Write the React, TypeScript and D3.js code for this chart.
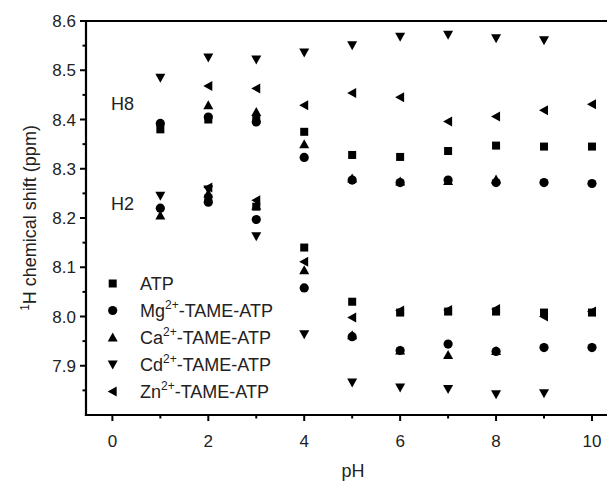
import React from "react";
import * as d3 from "d3";

const pH = [1, 2, 3, 4, 5, 6, 7, 8, 9, 10];

const atpH8 = [8.38, 8.4, 8.4, 8.375, 8.328, 8.324, 8.336, 8.347, 8.345, 8.345];
const atpH2 = [null, 8.24, 8.223, 8.14, 8.03, 8.008, 8.01, 8.01, 8.008, 8.008];
const mgH8 = [8.392, 8.405, 8.395, 8.323, 8.277, 8.272, 8.277, 8.272, 8.272, 8.27];
const mgH2 = [8.22, 8.232, 8.197, 8.058, 7.959, 7.931, 7.944, 7.929, 7.937, 7.937];
const caH8 = [null, 8.429, 8.415, 8.35, 8.28, 8.274, 8.275, 8.278, null, null];
const caH2 = [8.205, 8.25, 8.225, 8.094, 7.962, 7.931, 7.922, 7.93, null, null];
const cdH8 = [8.485, 8.526, 8.522, 8.536, 8.551, 8.568, 8.572, 8.565, 8.561, null];
const cdH2 = [8.245, 8.258, 8.163, 7.964, 7.866, 7.856, 7.853, 7.842, 7.844, null];
const znH8 = [null, 8.468, 8.463, 8.429, 8.454, 8.445, 8.396, 8.406, 8.419, 8.431];
const znH2 = [null, 8.262, 8.236, 8.111, 7.998, 8.012, 8.013, 8.015, 8.0, 8.01];

const seriesNames = ["ATP", "Mg", "Ca", "Cd", "Zn"];
const seriesShapes = ["square", "circle", "up", "down", "left"];
const seriesH8 = [atpH8, mgH8, caH8, cdH8, znH8];
const seriesH2 = [atpH2, mgH2, caH2, cdH2, znH2];

const yTicks = [7.9, 8.0, 8.1, 8.2, 8.3, 8.4, 8.5, 8.6];
const yMinor = [7.85, 7.95, 8.05, 8.15, 8.25, 8.35, 8.45, 8.55];
const xTicks = [0, 2, 4, 6, 8, 10];
const xMinor = [1, 3, 5, 7, 9];

const W = 607;
const H = 482;
const left = 86;
const top = 21;
const bottom = 415;

const x = d3.scaleLinear().domain([-0.55, 10.5]).range([left, left + 11.05 * 47.96]);
const y = d3.scaleLinear().domain([7.8, 8.6]).range([bottom, top]);

const FONT = "'Liberation Sans', Arial, sans-serif";

function Marker({ shape, cx, cy }: { shape: string; cx: number; cy: number }) {
  if (shape === "square") return <rect x={cx - 4} y={cy - 4} width={8} height={8} fill="#000" />;
  if (shape === "circle") return <circle cx={cx} cy={cy} r={4.6} fill="#000" />;
  if (shape === "up")
    return <path d={`M${cx},${cy - 5} L${cx + 5},${cy + 4} L${cx - 5},${cy + 4} Z`} fill="#000" />;
  if (shape === "down")
    return <path d={`M${cx - 5},${cy - 4} L${cx + 5},${cy - 4} L${cx},${cy + 5} Z`} fill="#000" />;
  return <path d={`M${cx - 5},${cy} L${cx + 4},${cy - 5} L${cx + 4},${cy + 5} Z`} fill="#000" />;
}

function Super({ base, sup, rest }: { base: string; sup: string; rest: string }) {
  return (
    <>
      {base}
      <tspan fontSize={12} dy={-8}>{sup}</tspan>
      <tspan dy={8}>{rest}</tspan>
    </>
  );
}

export default function App() {
  const legendLabels = [
    <>ATP</>,
    <Super base="Mg" sup="2+" rest="-TAME-ATP" />,
    <Super base="Ca" sup="2+" rest="-TAME-ATP" />,
    <Super base="Cd" sup="2+" rest="-TAME-ATP" />,
    <Super base="Zn" sup="2+" rest="-TAME-ATP" />,
  ];
  return (
    <svg
      width={W}
      height={H}
      style={{ position: "absolute", left: 0, top: 0, background: "#fff" }}
      fontFamily={FONT}
    >
      <rect x={0} y={0} width={W} height={H} fill="#fff" />
      {/* data */}
      {seriesNames.map((name, si) => (
        <g key={name}>
          {[seriesH8[si], seriesH2[si]].map((arr, ai) =>
            arr.map((v, i) =>
              v == null ? null : (
                <Marker key={`${ai}-${i}`} shape={seriesShapes[si]} cx={x(pH[i])} cy={y(v)} />
              )
            )
          )}
        </g>
      ))}
      {/* axes */}
      <line x1={left} y1={top} x2={W + 10} y2={top} stroke="#000" strokeWidth={2.2} />
      <line x1={left} y1={top - 1.1} x2={left} y2={bottom + 1.1} stroke="#000" strokeWidth={2.2} />
      <line x1={left - 1.1} y1={bottom} x2={W + 10} y2={bottom} stroke="#000" strokeWidth={2.2} />
      {yTicks.map((t) => (
        <g key={t}>
          <line x1={left - 6} x2={left} y1={y(t)} y2={y(t)} stroke="#000" strokeWidth={2} />
          <text x={left - 10} y={y(t)} dy="0.36em" textAnchor="end" fontSize={17} fill="#222">
            {t.toFixed(1)}
          </text>
        </g>
      ))}
      {yMinor.map((t) => (
        <line key={t} x1={left - 3.5} x2={left} y1={y(t)} y2={y(t)} stroke="#000" strokeWidth={2} />
      ))}
      {xTicks.map((t) => (
        <g key={t}>
          <line x1={x(t)} x2={x(t)} y1={bottom} y2={bottom + 6} stroke="#000" strokeWidth={2} />
          <text x={x(t)} y={447} textAnchor="middle" fontSize={17} fill="#222">
            {t}
          </text>
        </g>
      ))}
      {xMinor.map((t) => (
        <line key={t} x1={x(t)} x2={x(t)} y1={bottom} y2={bottom + 3.5} stroke="#000" strokeWidth={2} />
      ))}
      <text x={353} y={477} textAnchor="middle" fontSize={18} fill="#222">pH</text>
      <text
        transform={`translate(36, 218) rotate(-90)`}
        textAnchor="middle"
        fontSize={18}
        fill="#222"
      >
        <tspan fontSize={12} dy={-7}>1</tspan>
        <tspan dy={7}>H chemical shift (ppm)</tspan>
      </text>
      <text x={111} y={110} fontSize={18} fill="#222">H8</text>
      <text x={111} y={210} fontSize={18} fill="#222">H2</text>
      {/* legend */}
      {seriesNames.map((name, i) => (
        <g key={name}>
          <Marker shape={seriesShapes[i]} cx={112.7} cy={283.5 + i * 27} />
          <text x={140} y={283.5 + i * 27} dy="0.36em" fontSize={18} fill="#222">
            {legendLabels[i]}
          </text>
        </g>
      ))}
    </svg>
  );
}
